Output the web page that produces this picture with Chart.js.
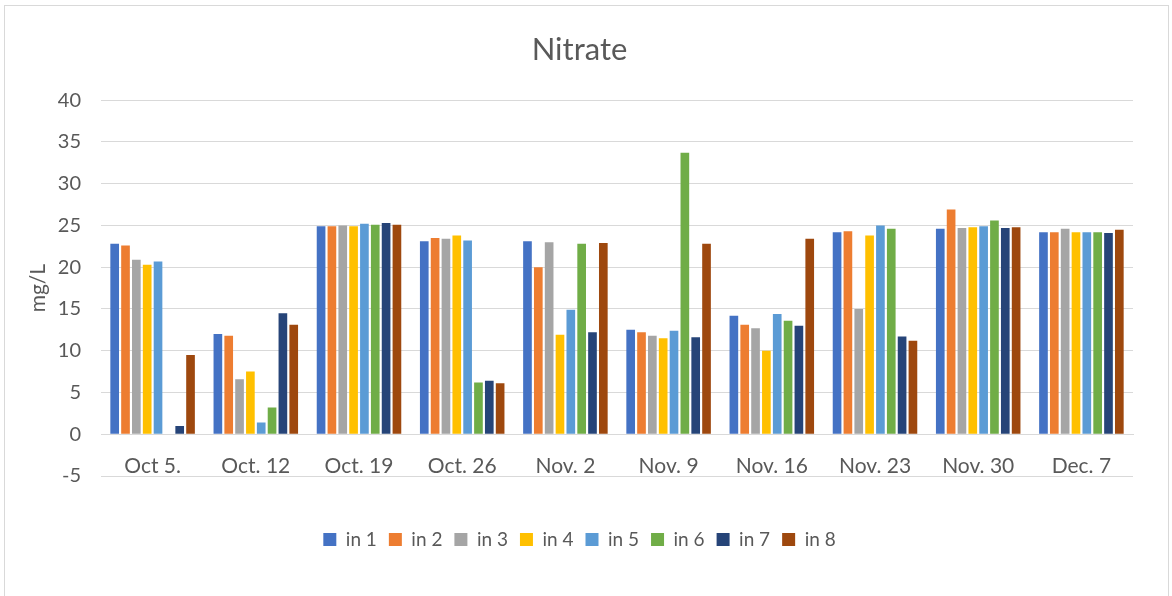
<!DOCTYPE html>
<html>
<head>
<meta charset="utf-8">
<script src="https://cdn.jsdelivr.net/npm/chart.js@4/dist/chart.umd.min.js"></script>
<style>
	html, body { margin: 0; padding: 0; background: #fff; }
	.frame {
		position: absolute;
		left: 4px;
		top: 5px;
		width: 1163px;
		height: 600px;
		border: 1px solid #d9d9d9;
	}
	.box { position: relative; width: 1163px; height: 590px; }
</style>
</head>
<body>
<div class="frame"><div class="box"><canvas id="nitrateChart"></canvas></div></div>
<script>
const dates = ['Oct 5.', 'Oct. 12', 'Oct. 19', 'Oct. 26', 'Nov. 2', 'Nov. 9', 'Nov. 16', 'Nov. 23', 'Nov. 30', 'Dec. 7'];

// nitrate per inlet, mg/L
const in1 = [22.8, 12.0, 24.9, 23.1, 23.1, 12.5, 14.2, 24.2, 24.6, 24.2];
const in2 = [22.6, 11.8, 24.9, 23.5, 20.0, 12.2, 13.1, 24.3, 26.9, 24.2];
const in3 = [20.9, 6.6, 25.0, 23.4, 23.0, 11.8, 12.7, 15.0, 24.7, 24.6];
const in4 = [20.3, 7.5, 24.9, 23.8, 11.9, 11.5, 10.0, 23.8, 24.8, 24.2];
const in5 = [20.7, 1.4, 25.2, 23.2, 14.9, 12.4, 14.4, 25.0, 24.9, 24.2];
const in6 = [0, 3.2, 25.1, 6.2, 22.8, 33.7, 13.6, 24.6, 25.6, 24.2];
const in7 = [1.0, 14.5, 25.3, 6.4, 12.2, 11.6, 13.0, 11.7, 24.7, 24.1];
const in8 = [9.5, 13.1, 25.1, 6.1, 22.9, 22.8, 23.4, 11.2, 24.8, 24.5];

const seriesNames = ['in 1', 'in 2', 'in 3', 'in 4', 'in 5', 'in 6', 'in 7', 'in 8'];
const seriesColors = ['#4472c4', '#ed7d31', '#a5a5a5', '#ffc000', '#5b9bd5', '#70ad47', '#264478', '#9e480e'];
const yTicks = [-5, 0, 5, 10, 15, 20, 25, 30, 35, 40];

const series = [in1, in2, in3, in4, in5, in6, in7, in8];
const textColor = '#595959';
const gridColor = '#d9d9d9';

new Chart(document.getElementById('nitrateChart'), {
	type: 'bar',
	data: {
		labels: dates,
		datasets: series.map((vals, i) => ({
			label: seriesNames[i],
			data: vals,
			backgroundColor: seriesColors[i],
			borderWidth: 0,
			barPercentage: 0.8,
			categoryPercentage: 0.84,
		})),
	},
	options: {
		responsive: true,
		maintainAspectRatio: false,
		animation: false,
		layout: { padding: { top: 25, left: 21, right: 35, bottom: 37 } },
		plugins: {
			title: {
				display: true,
				text: 'Nitrate',
				color: textColor,
				font: { family: 'Lato', size: 31, weight: 'normal', lineHeight: 1.2 },
				padding: { top: 0, bottom: 32 },
			},
			legend: {
				position: 'bottom',
				// empty title only adds the gap under the date labels
				title: { display: true, text: '', font: { size: 10, lineHeight: 1 }, padding: { top: 0, bottom: 32 } },
				labels: {
					color: textColor,
					boxWidth: 13,
					boxHeight: 13,
					padding: 12,
					font: { family: 'Lato', size: 19 },
				},
			},
			tooltip: { enabled: false },
		},
		scales: {
			x: {
				position: { y: 0 },
				grid: { display: false },
				border: { color: gridColor, width: 1 },
				ticks: {
					color: textColor,
					font: { family: 'Lato', size: 21 },
					padding: 11,
					maxRotation: 0,
				},
			},
			y: {
				min: yTicks[0],
				max: yTicks[yTicks.length - 1],
				afterBuildTicks: (axis) => { axis.ticks = yTicks.map((v) => ({ value: v })); },
				afterFit: (axis) => { axis.width = 75; },
				grid: { color: gridColor, lineWidth: 1, drawTicks: false },
				border: { display: false },
				ticks: {
					color: textColor,
					font: { family: 'Lato', size: 20 },
					padding: 20,
				},
				title: {
					display: true,
					text: 'mg/L',
					color: textColor,
					font: { family: 'Lato', size: 21, lineHeight: 1.2 },
					padding: { top: 0, bottom: 9 },
				},
			},
		},
	},
});
</script>
</body>
</html>
